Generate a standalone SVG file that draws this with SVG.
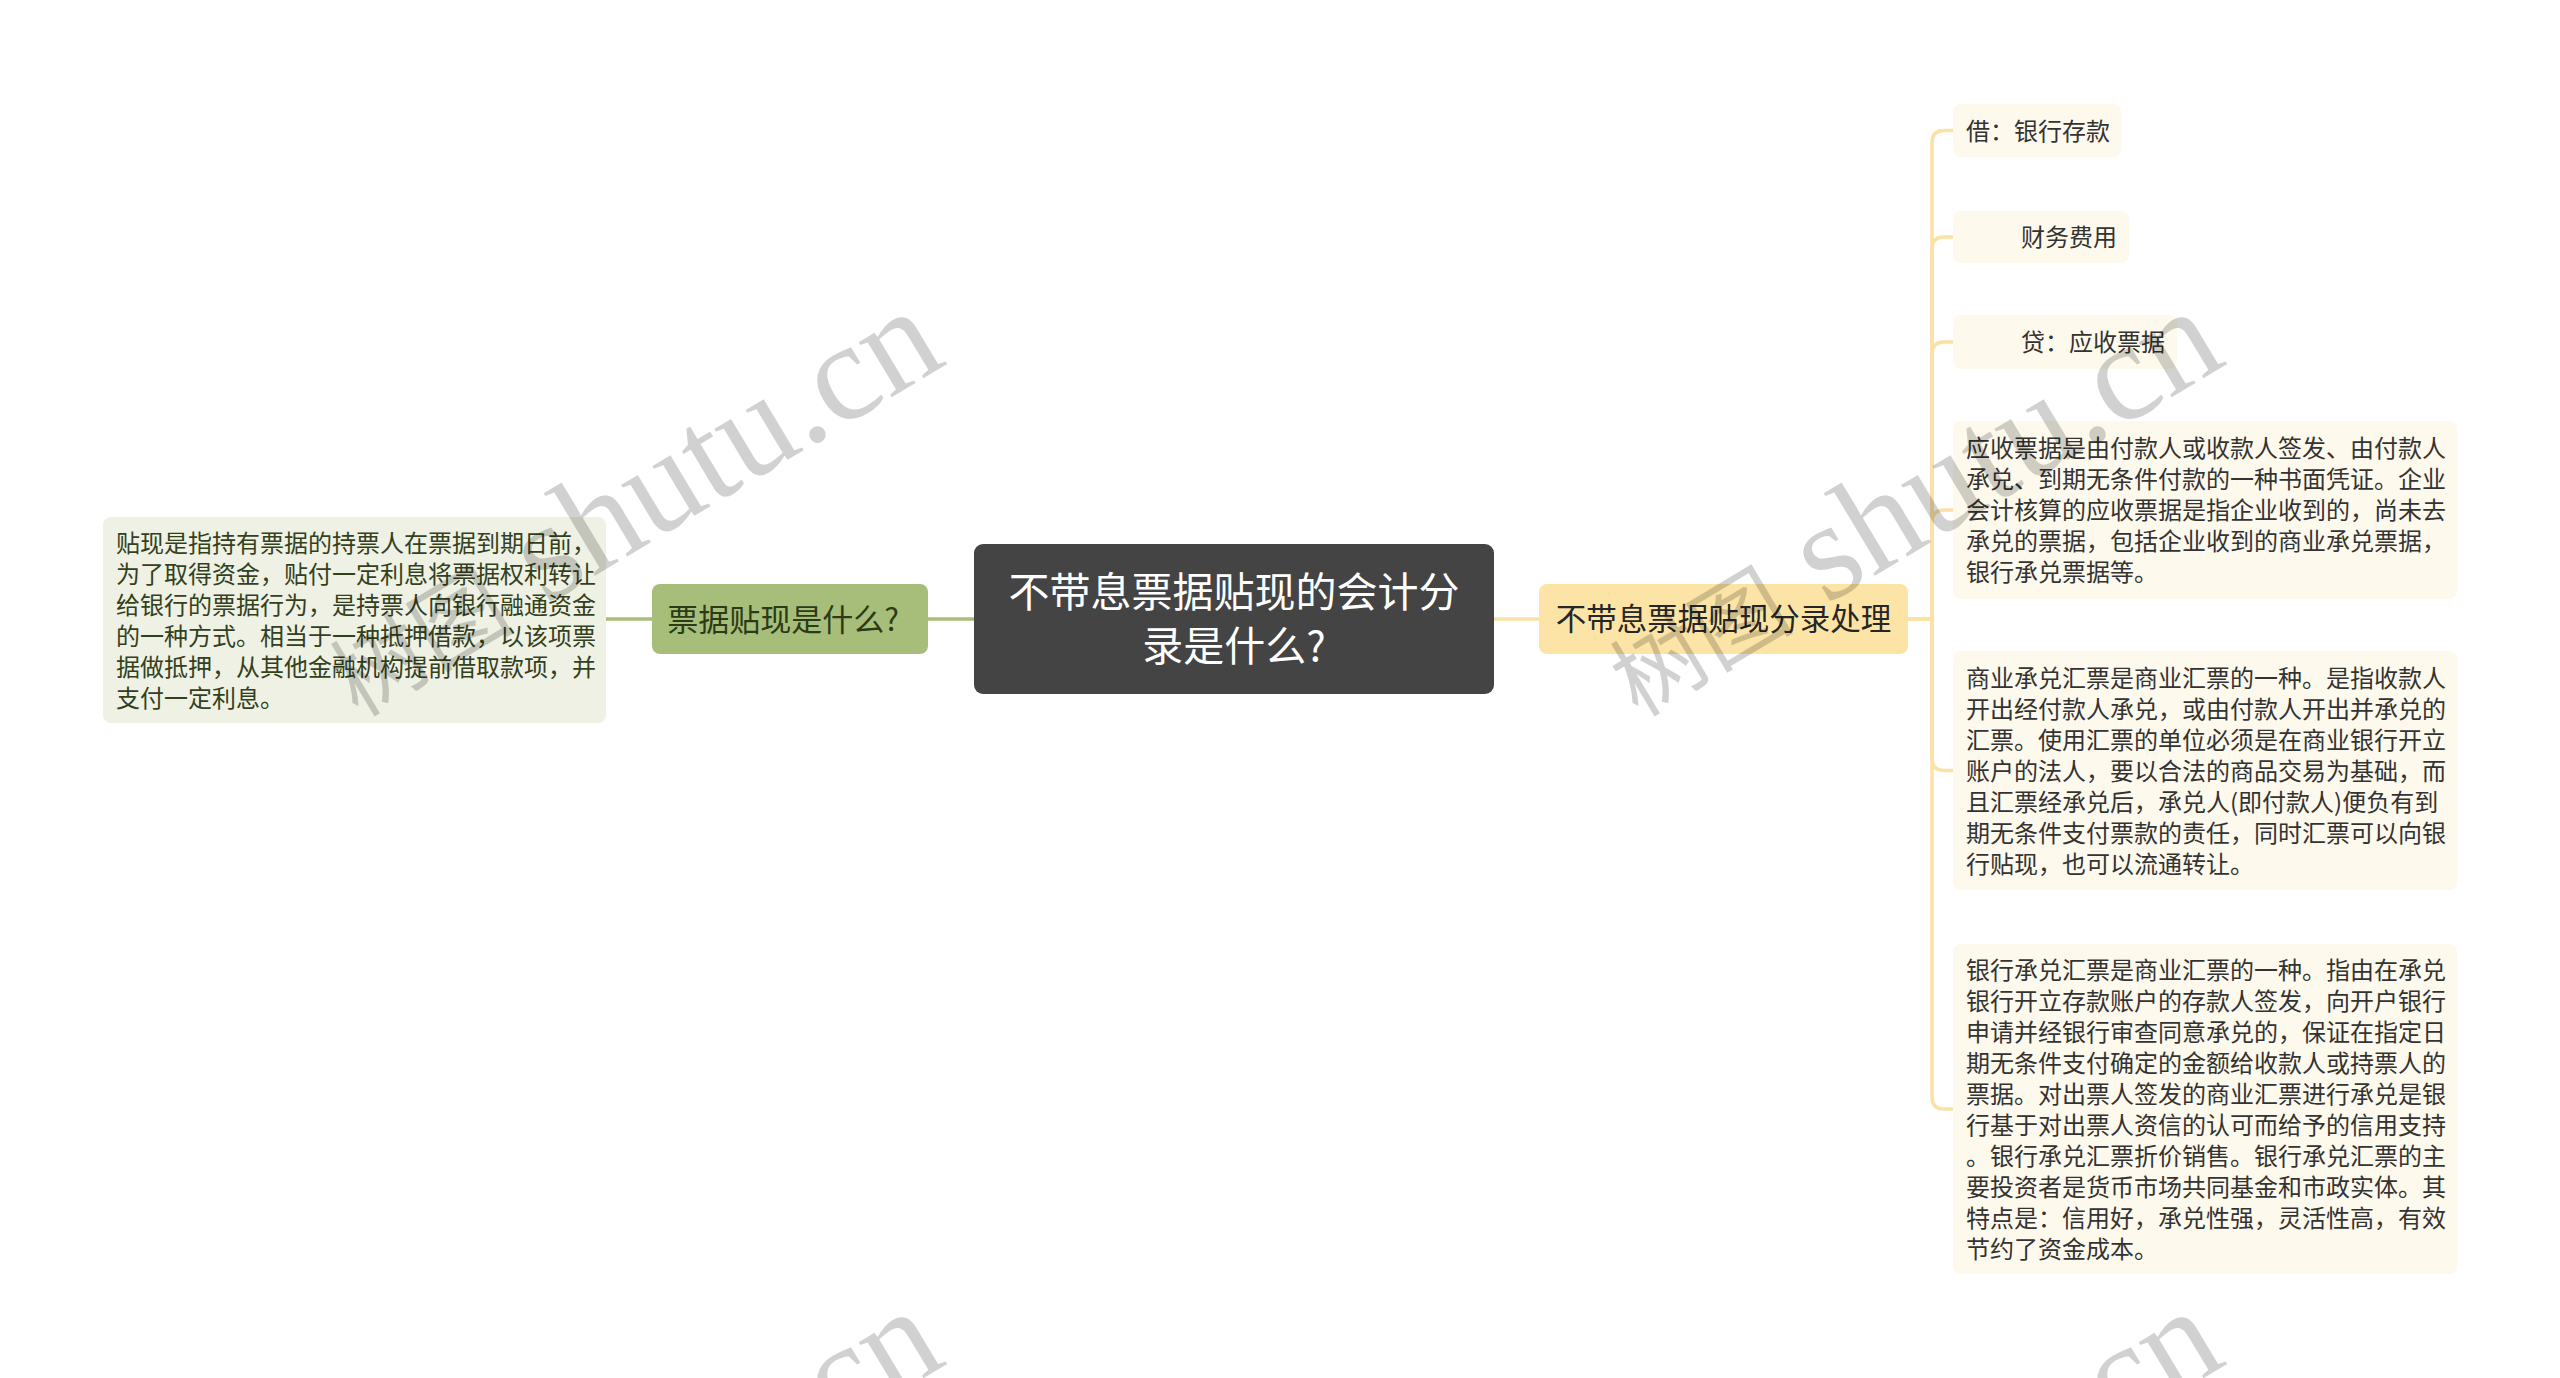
<svg xmlns="http://www.w3.org/2000/svg" width="2560" height="1378" viewBox="0 0 2560 1378">
<style>
text{font-family:"Noto Sans CJK SC","Noto Sans",sans-serif;dominant-baseline:central}
.leaf{fill:#fdf9ec}
.lt{font-size:24px;fill:#333}
.glt{font-size:24px;fill:#33401c}
.cg{fill:none;stroke:#a6be7a;stroke-width:3.5}
.cy{fill:none;stroke:#fae2a6;stroke-width:3.5}
.wm{font-family:"Liberation Serif","Noto Sans CJK SC",serif;fill:#000;fill-opacity:0.18;dominant-baseline:alphabetic}
</style>
<rect width="2560" height="1378" fill="#fff"/>
<g id="connectors">
<path class="cg" d="M652,619 H606"/>
<path class="cg" d="M974,619 H928"/>
<path class="cy" d="M1494,619 H1539"/>
<path class="cy" d="M1908,619 H1932 V142.5 Q1932,130.5 1944,130.5 H1953"/>
<path class="cy" d="M1908,619 H1932 V249 Q1932,237 1944,237 H1953"/>
<path class="cy" d="M1908,619 H1932 V354 Q1932,342 1944,342 H1953"/>
<path class="cy" d="M1908,619 H1932 V522 Q1932,510 1944,510 H1953"/>
<path class="cy" d="M1908,619 H1932 V758.5 Q1932,770.5 1944,770.5 H1953"/>
<path class="cy" d="M1908,619 H1932 V1097 Q1932,1109 1944,1109 H1953"/>
</g>
<g id="root">
<rect x="974" y="544" width="520" height="150" rx="9" fill="#444"/>
<text x="1234" y="589" font-size="41" fill="#fff" text-anchor="middle">不带息票据贴现的会计分</text>
<text x="1234" y="643" font-size="41" fill="#fff" text-anchor="middle">录是什么?</text>
</g>
<g id="left-main">
<rect x="652" y="584" width="276" height="70" rx="8" fill="#a6be7a"/>
<text x="783" y="617" font-size="31" fill="#2c3a18" text-anchor="middle">票据贴现是什么?</text>
</g>
<g id="left-leaf">
<rect x="103" y="517" width="503" height="206" rx="8" fill="#eef1e4"/>
<text class="glt" x="116" y="541">贴现是指持有票据的持票人在票据到期日前，</text>
<text class="glt" x="116" y="572">为了取得资金，贴付一定利息将票据权利转让</text>
<text class="glt" x="116" y="603">给银行的票据行为，是持票人向银行融通资金</text>
<text class="glt" x="116" y="634">的一种方式。相当于一种抵押借款，以该项票</text>
<text class="glt" x="116" y="665">据做抵押，从其他金融机构提前借取款项，并</text>
<text class="glt" x="116" y="696">支付一定利息。</text>
</g>
<g id="right-main">
<rect x="1539" y="584" width="369" height="70" rx="8" fill="#fce4a6"/>
<text x="1723.5" y="617" font-size="30.5" fill="#262626" text-anchor="middle">不带息票据贴现分录处理</text>
</g>
<g id="leaf1">
<rect class="leaf" x="1953" y="104" width="168" height="53" rx="8"/>
<text class="lt" x="1966" y="129">借：银行存款</text>
</g>
<g id="leaf2">
<rect class="leaf" x="1953" y="211" width="176" height="52" rx="8"/>
<text class="lt" x="2021" y="235.5">财务费用</text>
</g>
<g id="leaf3">
<rect class="leaf" x="1953" y="315" width="224" height="54" rx="8"/>
<text class="lt" x="2021" y="340.5">贷：应收票据</text>
</g>
<g id="leaf4">
<rect class="leaf" x="1953" y="421" width="504" height="178" rx="8"/>
<text class="lt" x="1966" y="446.5">应收票据是由付款人或收款人签发、由付款人</text>
<text class="lt" x="1966" y="477.5">承兑、到期无条件付款的一种书面凭证。企业</text>
<text class="lt" x="1966" y="508.5">会计核算的应收票据是指企业收到的，尚未去</text>
<text class="lt" x="1966" y="539.5">承兑的票据，包括企业收到的商业承兑票据，</text>
<text class="lt" x="1966" y="570.5">银行承兑票据等。</text>
</g>
<g id="leaf5">
<rect class="leaf" x="1953" y="651" width="504" height="239" rx="8"/>
<text class="lt" x="1966" y="676">商业承兑汇票是商业汇票的一种。是指收款人</text>
<text class="lt" x="1966" y="707">开出经付款人承兑，或由付款人开出并承兑的</text>
<text class="lt" x="1966" y="738">汇票。使用汇票的单位必须是在商业银行开立</text>
<text class="lt" x="1966" y="769">账户的法人，要以合法的商品交易为基础，而</text>
<text class="lt" x="1966" y="800">且汇票经承兑后，承兑人(即付款人)便负有到</text>
<text class="lt" x="1966" y="831">期无条件支付票款的责任，同时汇票可以向银</text>
<text class="lt" x="1966" y="862">行贴现，也可以流通转让。</text>
</g>
<g id="leaf6">
<rect class="leaf" x="1953" y="944" width="504" height="330" rx="8"/>
<text class="lt" x="1966" y="968">银行承兑汇票是商业汇票的一种。指由在承兑</text>
<text class="lt" x="1966" y="999">银行开立存款账户的存款人签发，向开户银行</text>
<text class="lt" x="1966" y="1030">申请并经银行审查同意承兑的，保证在指定日</text>
<text class="lt" x="1966" y="1061">期无条件支付确定的金额给收款人或持票人的</text>
<text class="lt" x="1966" y="1092">票据。对出票人签发的商业汇票进行承兑是银</text>
<text class="lt" x="1966" y="1123">行基于对出票人资信的认可而给予的信用支持</text>
<text class="lt" x="1966" y="1154">。银行承兑汇票折价销售。银行承兑汇票的主</text>
<text class="lt" x="1966" y="1185">要投资者是货币市场共同基金和市政实体。其</text>
<text class="lt" x="1966" y="1216">特点是：信用好，承兑性强，灵活性高，有效</text>
<text class="lt" x="1966" y="1247">节约了资金成本。</text>
</g>
<g id="watermarks">
<text class="wm" x="358" y="718" transform="rotate(-31 358 718)"><tspan font-size="92">树图</tspan><tspan font-size="140"> shutu.cn</tspan></text>
<text class="wm" x="1638" y="718" transform="rotate(-31 1638 718)"><tspan font-size="92">树图</tspan><tspan font-size="140"> shutu.cn</tspan></text>
<text class="wm" x="358" y="1718" transform="rotate(-31 358 1718)"><tspan font-size="92">树图</tspan><tspan font-size="140"> shutu.cn</tspan></text>
<text class="wm" x="1638" y="1718" transform="rotate(-31 1638 1718)"><tspan font-size="92">树图</tspan><tspan font-size="140"> shutu.cn</tspan></text>
</g>
</svg>
